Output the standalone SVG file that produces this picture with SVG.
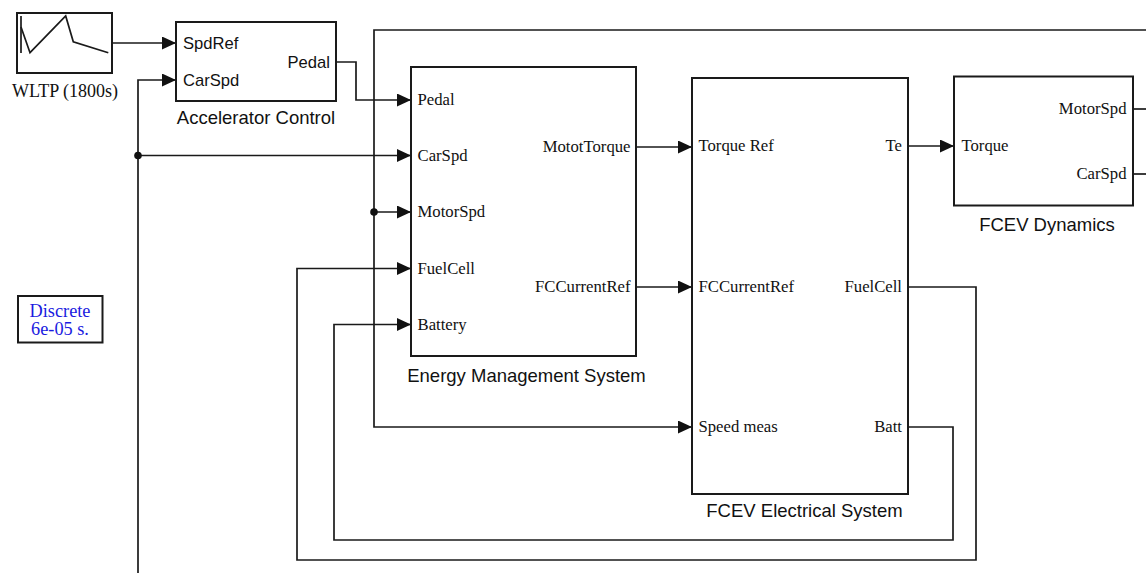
<svg xmlns="http://www.w3.org/2000/svg" width="1146" height="573" viewBox="0 0 1146 573">
<style>
.box{fill:#fff;stroke:#1a1a1a;stroke-width:2}
.ln{fill:none;stroke:#1a1a1a;stroke-width:1.7}
.serif{font-family:"Liberation Serif","Times New Roman",serif;font-size:16.7px;fill:#111}
.sans{font-family:"Liberation Sans",Arial,sans-serif;font-size:16.6px;fill:#111}
.name{font-family:"Liberation Sans",Arial,sans-serif;font-size:18.5px;fill:#111;text-anchor:middle}
.end{text-anchor:end}
.dot{fill:#111}
</style>
<defs>
<marker id="arr" markerUnits="userSpaceOnUse" viewBox="0 0 14 13" markerWidth="14" markerHeight="13" refX="14" refY="6.5" orient="auto">
<path d="M0,0 L14,6.5 L0,13 z" fill="#111"/>
</marker>
</defs>
<rect width="1146" height="573" fill="#fff"/>
<g id="connectors">
<path class="ln" d="M112,43 H176" marker-end="url(#arr)"/>
<path class="ln" d="M336,62 H356 V100 H411" marker-end="url(#arr)"/>
<path class="ln" d="M138,573 V80 H176" marker-end="url(#arr)"/>
<path class="ln" d="M138,155.5 H411" marker-end="url(#arr)"/>
<circle class="dot" cx="138" cy="155.5" r="3.8"/>
<path class="ln" d="M1133,109 H1146"/>
<path class="ln" d="M1133,174 H1146"/>
<path class="ln" d="M1146,30 H374 V427 H692" marker-end="url(#arr)"/>
<path class="ln" d="M374,212 H411" marker-end="url(#arr)"/>
<circle class="dot" cx="374" cy="212" r="3.8"/>
<path class="ln" d="M636,147 H692" marker-end="url(#arr)"/>
<path class="ln" d="M908,146 H954" marker-end="url(#arr)"/>
<path class="ln" d="M636,287 H692" marker-end="url(#arr)"/>
<path class="ln" d="M908,287 H976 V560 H297 V268.5 H411" marker-end="url(#arr)"/>
<path class="ln" d="M908,427 H953 V540 H334 V324.5 H411" marker-end="url(#arr)"/>
</g>
<g id="wltp">
<rect class="box" x="17" y="13" width="95" height="60"/>
<polyline class="ln" points="21,16 21,53"/>
<polyline class="ln" points="21,27 30,52.7 65.7,16 73.3,41.7 108.3,52.7"/>
<text x="65" y="97" style="font-family:'Liberation Serif','Times New Roman',serif;font-size:18px;fill:#111" text-anchor="middle">WLTP (1800s)</text>
</g>
<g id="accelerator-control">
<rect class="box" x="176" y="22" width="160" height="79"/>
<text class="sans" x="183" y="48.5">SpdRef</text>
<text class="sans" x="183" y="86">CarSpd</text>
<text class="sans end" x="330" y="68">Pedal</text>
<text class="name" x="256" y="123.5">Accelerator Control</text>
</g>
<g id="energy-management-system">
<rect class="box" x="411" y="67" width="225" height="289"/>
<text class="serif" x="417.5" y="105">Pedal</text>
<text class="serif" x="417.5" y="161">CarSpd</text>
<text class="serif" x="417.5" y="217">MotorSpd</text>
<text class="serif" x="417.5" y="273.5">FuelCell</text>
<text class="serif" x="417.5" y="329.5">Battery</text>
<text class="serif end" x="630.5" y="152">MototTorque</text>
<text class="serif end" x="630.5" y="292">FCCurrentRef</text>
<text class="name" x="526.5" y="382.3">Energy Management System</text>
</g>
<g id="fcev-electrical-system">
<rect class="box" x="692" y="78" width="216" height="416"/>
<text class="serif" x="698.5" y="151">Torque Ref</text>
<text class="serif" x="698.5" y="292">FCCurrentRef</text>
<text class="serif" x="698.5" y="432">Speed meas</text>
<text class="serif end" x="902" y="151">Te</text>
<text class="serif end" x="902" y="292">FuelCell</text>
<text class="serif end" x="902" y="432">Batt</text>
<text class="name" x="804.5" y="517">FCEV Electrical System</text>
</g>
<g id="fcev-dynamics">
<rect class="box" x="954" y="76.5" width="179" height="129"/>
<text class="serif" x="961.5" y="151">Torque</text>
<text class="serif end" x="1126.5" y="114">MotorSpd</text>
<text class="serif end" x="1126.5" y="179">CarSpd</text>
<text class="name" x="1047" y="230.5">FCEV Dynamics</text>
</g>
<g id="discrete">
<rect class="box" x="18" y="296" width="84.5" height="46.5"/>
<text x="60" y="316.5" style="font-family:'Liberation Serif','Times New Roman',serif;font-size:18.3px;fill:#1a1ae0" text-anchor="middle">Discrete</text>
<text x="60" y="335" style="font-family:'Liberation Serif','Times New Roman',serif;font-size:18.3px;fill:#1a1ae0" text-anchor="middle">6e-05 s.</text>
</g>
</svg>
